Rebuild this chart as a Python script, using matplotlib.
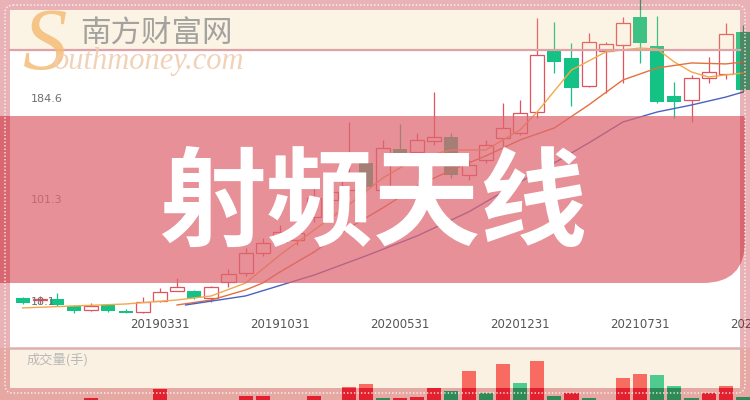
import matplotlib
matplotlib.use("Agg")
import matplotlib.pyplot as plt
import matplotlib.transforms as mtransforms
from matplotlib.patches import Rectangle, FancyBboxPatch, PathPatch
from matplotlib.path import Path
import numpy as np

# monthly k-line, 2018-07 .. 2022-01
opens = [21.5, 19.5, 20.7, 15.0, 11.7, 15.8, 11.1, 10.1, 19.1, 27.3,
         27.3, 21.5, 34.6, 42.0, 58.3, 67.3, 69.0, 87.8, 102.0, 109.9,
         131.9, 109.9, 143.4, 141.0, 149.9, 153.2, 122.1, 134.4, 152.4, 156.5,
         173.7, 224.4, 217.9, 194.9, 223.6, 228.5, 251.4, 227.7, 186.8, 183.5,
         201.5, 204.8, 239.1]
highs = [22.5, 23.0, 25.6, 15.5, 17.4, 16.5, 12.5, 22.3, 29.7, 37.9,
         28.0, 31.0, 45.3, 62.4, 70.6, 81.2, 85.3, 115.0, 117.0, 165.5,
         136.0, 150.8, 163.9, 156.5, 190.0, 156.5, 134.4, 150.8, 181.0, 183.5,
         250.6, 247.3, 230.1, 238.3, 231.0, 251.4, 270.0, 252.2, 198.2, 204.0,
         218.7, 246.5, 245.0]
lows = [16.5, 17.0, 15.0, 9.2, 11.0, 10.0, 9.0, 9.5, 18.5, 27.0,
        21.0, 18.3, 30.5, 39.5, 55.9, 66.0, 64.9, 83.7, 98.0, 105.8,
        108.2, 108.0, 129.5, 134.4, 146.7, 119.7, 118.1, 132.0, 145.0, 154.9,
        168.8, 205.6, 178.6, 194.1, 189.2, 197.4, 213.8, 181.0, 168.8, 165.5,
        197.4, 200.7, 190.0]
closes = [17.4, 20.3, 15.8, 10.9, 15.2, 10.9, 9.5, 18.2, 26.4, 30.5,
          21.5, 30.5, 41.2, 58.3, 66.5, 75.5, 74.7, 103.3, 108.0, 120.5,
          112.3, 144.2, 136.9, 150.8, 153.2, 122.1, 130.3, 146.7, 160.6, 172.9,
          220.3, 214.6, 193.3, 230.9, 229.3, 246.5, 230.1, 181.9, 181.9, 201.5,
          206.4, 237.5, 191.7]

ma5_idx = [0, 3, 6, 9, 11, 13, 15, 17, 19, 21, 23, 25, 27, 29, 30, 32, 34, 36, 37, 38, 39, 40, 41, 42]
ma5_val = [13.4, 15.0, 16.6, 19.9, 23.2, 33.8, 56.7, 77.2, 97.6, 119.7, 136.1, 142.6, 142.6, 159.0,
           173.7, 208.0, 222.8, 226.0, 225.2, 214.6, 206.4, 202.3, 204.0, 205.6]
ma10_idx = [9, 11, 13, 14, 15, 17, 19, 21, 23, 25, 27, 29, 31, 33, 35, 37, 39, 41, 42]
ma10_val = [15.8, 19.9, 28.1, 33.8, 42.8, 59.2, 78.8, 95.2, 113.2, 126.2, 137.7, 150.8, 160.6,
            179.4, 199.9, 209.7, 213.8, 213.0, 214.6]
ma20_idx = [9.5, 13, 17, 20, 23, 26, 29, 31, 33, 35, 37, 39, 41, 42]
ma20_val = [15.8, 23.2, 40.3, 55.9, 72.3, 91.9, 116.4, 132.0, 148.3, 165.5, 173.7, 179.4, 185.9, 190.0]

volumes = [0, 0, 0, 0, 10000, 0, 0, 0, 55000, 0,
           0, 0, 0, 20000, 20000, 0, 0, 20000, 0, 65000,
           80000, 10000, 10000, 15000, 60000, 45000, 145000, 35000, 180000, 85000,
           195000, 20000, 35000, 10000, 0, 110000, 130000, 125000, 70000, 10000,
           35000, 70000, 15000]
vol_up = [1, 1, 0, 0, 1, 0, 0, 1, 1, 1,
          0, 1, 1, 1, 1, 1, 1, 1, 1, 1,
          1, 0, 1, 1, 1, 0, 1, 0, 1, 0,
          1, 0, 1, 0, 1, 1, 1, 0, 0, 0,
          1, 1, 0]

ytick_vals = [18.1, 101.3, 184.6, 267.9]
date_idx = [8, 15, 22, 29, 36, 43]
date_labels = ['20190331', '20191031', '20200531', '20201231', '20210731', '20220228']

title = "射频天线"
site_cn = "南方财富网"
site_en = "outhmoney.com"
vol_label = "成交量(手)"

RED = '#e2535f'
GREEN = '#14c285'
CJK = ['Noto Sans CJK SC', 'DejaVu Sans']

fig = plt.figure(figsize=(7.5, 4), dpi=100, facecolor='white')

# price panel
ax = fig.add_axes([0, 52 / 400, 1, 348 / 400])
ax.axis('off')
ax.set_xlim(-1.324, 42.41)
ax.set_ylim(-19.4, 265.3)

x = np.arange(len(opens))
o = np.array(opens)
c = np.array(closes)
h = np.array(highs)
l = np.array(lows)
up = c >= o
lo = np.minimum(o, c)
bh = np.maximum(np.abs(c - o), 0.9)

ax.vlines(x[up], l[up], h[up], color=RED, lw=0.9, zorder=2)
ax.vlines(x[~up], l[~up], h[~up], color=GREEN, lw=0.9, zorder=2)
ax.bar(x[up], bh[up], bottom=lo[up], width=0.82, facecolor='white', edgecolor=RED, lw=0.9, zorder=3)
ax.bar(x[~up], bh[~up], bottom=lo[~up], width=0.82, color=GREEN, zorder=3)

ax.plot(ma5_idx, ma5_val, color='#f2a94a', lw=1, zorder=4)
ax.plot(ma10_idx, ma10_val, color='#e4703e', lw=1, zorder=4)
ax.plot(ma20_idx, ma20_val, color='#4a62c0', lw=1, zorder=4)

ty = mtransforms.blended_transform_factory(ax.transAxes, ax.transData)
for v in ytick_vals:
    ax.text(31 / 750, v, f"{v}", transform=ty, ha='left', va='center',
            fontsize=8, color='#6e6e6e', zorder=5)
tx = mtransforms.blended_transform_factory(ax.transData, ax.transAxes)
for i, lab in zip(date_idx, date_labels):
    ax.text(i, 23 / 348, lab, transform=tx, ha='center', va='center',
            fontsize=8.5, color='#555555', clip_on=False)

# volume panel
axv = fig.add_axes([0, 0, 1, 52 / 400])
axv.set_facecolor('#fbf1e3')
for s in axv.spines.values():
    s.set_visible(False)
axv.set_xticks([])
axv.set_yticks([])
axv.set_xlim(-1.324, 42.41)
axv.set_ylim(0, 260000)
vcol = ['#f76b60' if u else '#4fcb92' for u in vol_up]
axv.bar(x, volumes, width=0.82, color=vcol)
axv.text(27 / 750, 0.77, vol_label, transform=axv.transAxes, ha='left', va='center',
         fontsize=9.5, color='#b8b8b8', family=CJK)

# decoration layer
deco = fig.add_axes([0, 0, 1, 1], zorder=5)
deco.axis('off')
deco.set_xlim(0, 750)
deco.set_ylim(400, 0)

deco.add_patch(Rectangle((10, 10), 730, 40, color='#ebc37b', alpha=0.2, lw=0))
deco.plot([10, 740], [50, 50], color='#e0a2a6', lw=1.6)
deco.plot([10, 740], [347.5, 347.5], color='#dcb0b0', lw=1.8)

banner = Path([(0, 116), (745, 116), (745, 241), (745, 283), (703, 283), (0, 283), (0, 116)],
              [Path.MOVETO, Path.LINETO, Path.LINETO, Path.CURVE3, Path.CURVE3, Path.LINETO, Path.CLOSEPOLY])
deco.add_patch(PathPatch(banner, facecolor='#de6670', alpha=0.72, lw=0))

deco.text(373, 207, title, fontsize=77, color='white', fontweight='bold',
          ha='center', va='center', family=CJK)

deco.text(45, 48, "S", fontsize=64, color='#f5bd78', alpha=0.85, style='italic',
          family='Liberation Serif', ha='center', va='center')
deco.text(156, 34, site_cn, fontsize=22, color='#8e8e8e', alpha=0.8,
          ha='center', va='center', family=CJK)
deco.text(148, 61, site_en, fontsize=22, color='#f0cdb0', alpha=0.9, style='italic',
          family='Liberation Serif', ha='center', va='center')

frame_col = '#bb1523'
for r in [(0, 0, 750, 10), (0, 388, 750, 12), (0, 10, 10, 378), (740, 10, 10, 378)]:
    deco.add_patch(Rectangle(r[:2], r[2], r[3], color=frame_col, alpha=0.33, lw=0))

# volume bars inside the bottom strip
axv2 = fig.add_axes([0, 0, 1, 52 / 400], zorder=6)
axv2.axis('off')
axv2.set_xlim(-1.324, 42.41)
axv2.set_ylim(0, 260000)
dcol = ['#e3202e' if u else '#2e8b57' for u in vol_up]
bars = axv2.bar(x, volumes, width=0.82, color=dcol)
clip = Rectangle((0, 388), 750, 12, transform=deco.transData)
for b in bars:
    b.set_clip_path(clip)

frame = fig.add_axes([0, 0, 1, 1], zorder=7)
frame.axis('off')
frame.set_xlim(0, 750)
frame.set_ylim(400, 0)
frame.add_patch(FancyBboxPatch((5, 5), 740, 388, boxstyle='round,pad=0,rounding_size=8',
                               fill=False, ec='white', lw=1, ls=(0, (1, 1.5)), alpha=0.9))

fig.savefig('out.png', dpi=100, facecolor='white')
